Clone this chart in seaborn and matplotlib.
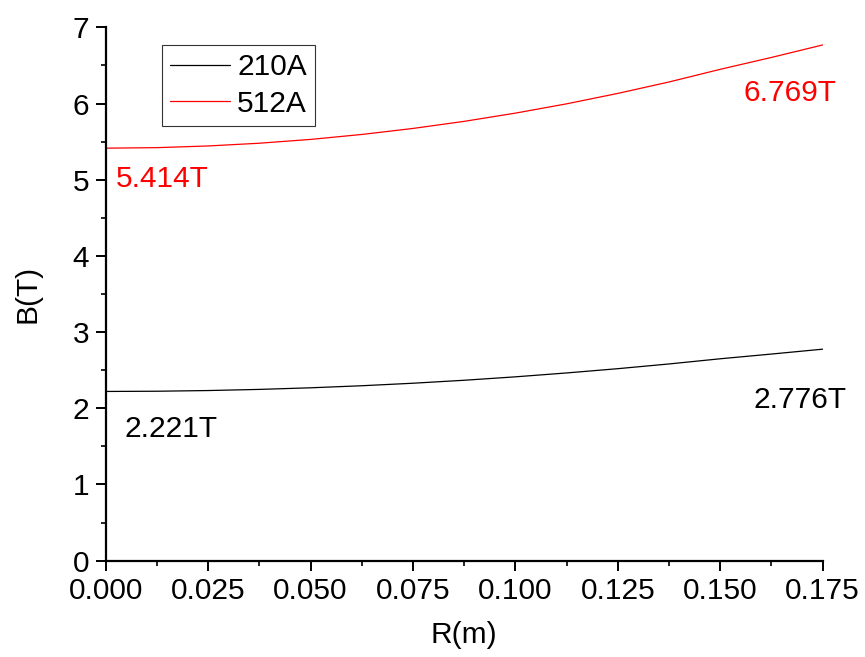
import numpy as np
import pandas as pd
import matplotlib
matplotlib.use('Agg')
import matplotlib.pyplot as plt
from matplotlib.ticker import MultipleLocator, FormatStrFormatter
import seaborn as sns

# radius (m)
r = [0.0, 0.0125, 0.025, 0.0375, 0.05, 0.0625, 0.075, 0.0875,
     0.1, 0.1125, 0.125, 0.1375, 0.15, 0.1625, 0.175]
# field for 210A
b_210 = [2.221, 2.224, 2.233, 2.248, 2.269, 2.296, 2.329, 2.368,
         2.413, 2.464, 2.520, 2.582, 2.650, 2.712, 2.776]
# field for 512A
b_512 = [5.414, 5.421, 5.443, 5.479, 5.529, 5.594, 5.673, 5.766,
         5.874, 5.996, 6.133, 6.283, 6.449, 6.605, 6.769]
labels = ['210A', '512A']
colors = {'210A': 'black', '512A': 'red'}

df = pd.DataFrame({
    'R': r + r,
    'B': b_210 + b_512,
    'I': [labels[0]] * len(r) + [labels[1]] * len(r),
})

sns.set_style('ticks')
plt.rcParams['font.family'] = ['Liberation Sans', 'DejaVu Sans']
plt.rcParams['text.color'] = 'black'
plt.rcParams['axes.labelcolor'] = 'black'

fs = 21.5

fig = plt.figure(figsize=(8.65, 6.57), dpi=100)
ax = fig.add_axes([0.1222, 0.1466, 0.8289, 0.8118])

sns.lineplot(data=df, x='R', y='B', hue='I', palette=colors, linewidth=0.9,
             ax=ax, legend=True)

ax.set_xlim(0, 0.175)
ax.set_ylim(0, 7)
ax.xaxis.set_major_locator(MultipleLocator(0.025))
ax.xaxis.set_minor_locator(MultipleLocator(0.0125))
ax.xaxis.set_major_formatter(FormatStrFormatter('%.3f'))
ax.yaxis.set_major_locator(MultipleLocator(1))
ax.yaxis.set_minor_locator(MultipleLocator(0.5))

for s in ['top', 'right']:
    ax.spines[s].set_visible(False)
for s in ['left', 'bottom']:
    ax.spines[s].set_linewidth(1.6)
    ax.spines[s].set_color('black')
ax.tick_params(which='major', direction='out', length=7, width=1.4,
               labelsize=fs, pad=5, colors='black')
ax.tick_params(which='minor', direction='out', length=3.5, width=1.2,
               colors='black')

ax.set_xlabel('R(m)', fontsize=fs, labelpad=11, color='black')
ax.set_ylabel('B(T)', fontsize=fs, labelpad=22, color='black')

leg = ax.legend(loc='upper left', bbox_to_anchor=(0.078, 0.967),
                borderaxespad=0, fontsize=fs, frameon=True, fancybox=False,
                handlelength=2.0, handletextpad=0.25, labelspacing=0.28,
                borderpad=0.28)
leg.get_frame().set_edgecolor('black')
leg.get_frame().set_linewidth(0.8)
leg.set_title(None)
for t in leg.get_texts():
    t.set_color('black')
for h in leg.get_lines():
    h.set_linewidth(0.9)

ax.text(0.0025, 4.90, '5.414T', color='red', fontsize=fs, va='baseline')
ax.text(0.1556, 6.033, '6.769T', color='red', fontsize=fs, va='baseline')
ax.text(0.0047, 1.627, '2.221T', color='black', fontsize=fs, va='baseline')
ax.text(0.158, 2.004, '2.776T', color='black', fontsize=fs, va='baseline',
        clip_on=False)

fig.savefig('out.png', dpi=100)
